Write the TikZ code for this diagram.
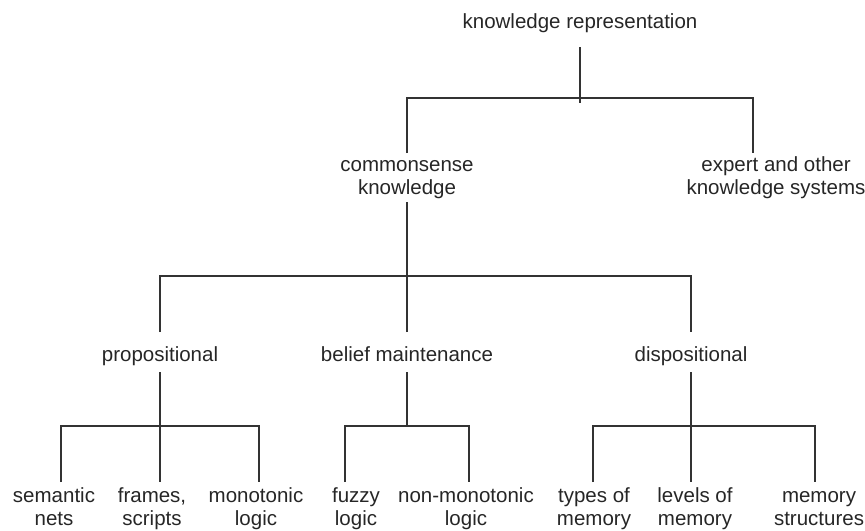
\documentclass[tikz,border=0pt]{standalone}
\usepackage{fontspec}
\setmainfont{Liberation Sans}
\usepackage{xcolor}
\usepackage{tikz}
\definecolor{inkc}{HTML}{262626}
\definecolor{linec}{HTML}{333333}

\begin{document}
\begin{tikzpicture}[x=0.5pt, y=-0.5pt,
  every node/.style={inner sep=0pt, anchor=base, align=center, text=inkc,
    font=\fontsize{10.25}{11.25}\selectfont},
  every path/.style={line width=0.7pt, linec}]
  \useasboundingbox (0,0) rectangle (865,530);
  % labels (base = last line)
  \node (root)  at (580,28)  {knowledge representation};
  \node (cs)    at (407,194) {commonsense\\knowledge};
  \node (exp)   at (776,194) {expert and other\\knowledge systems};
  \node (prop)  at (160,361) {propositional};
  \node (belief) at (407,361) {belief maintenance};
  \node (disp)  at (691,361) {dispositional};
  \node (sem)   at (54,525)  {semantic\\nets};
  \node (frm)   at (152,525) {frames,\\scripts};
  \node (mono)  at (256,525) {monotonic\\logic};
  \node (fuzzy) at (356,525) {fuzzy\\logic};
  \node (nmono) at (466,525) {non-monotonic\\logic};
  \node (types) at (594,525) {types of\\memory};
  \node (lvls)  at (695,525) {levels of\\memory};
  \node (mstr)  at (819,525) {memory\\structures};
  % forks and line ends
  \coordinate (rootfork) at (580,98);
  \coordinate (csfork) at (407,276);
  \coordinate (propfork) at (160,426);
  \coordinate (belfork) at (407,426);
  \coordinate (dispfork) at (691,426);
  \coordinate (exptop) at (753,153);
  \coordinate (semtop) at (61,482);
  \coordinate (frmtop) at (160,482);
  \coordinate (monotop) at (259,482);
  \coordinate (fuzzytop) at (345,482);
  \coordinate (nmonotop) at (469,482);
  \coordinate (typestop) at (593,482);
  \coordinate (lvlstop) at (691,482);
  \coordinate (mstrtop) at (815,482);
  % tree lines
  \draw (root.base) ++(0,19) -- ++(0,56);
  \draw (cs.base) ++(0,-41) |- (rootfork) -| (exptop);
  \draw (cs.base) ++(0,8) -- (csfork);
  \draw (prop.base) ++(0,-29) |- (csfork) -| ([yshift=14.5pt]disp.base);
  \draw (belief.base) ++(0,-29) -- (csfork);
  \draw (prop.base) ++(0,11) -- (frmtop);
  \draw (semtop) |- (propfork) -| (monotop);
  \draw (belief.base) ++(0,11) -- (belfork);
  \draw (fuzzytop) |- (belfork) -| (nmonotop);
  \draw (disp.base) ++(0,11) -- (lvlstop);
  \draw (typestop) |- (dispfork) -| (mstrtop);
\end{tikzpicture}
\end{document}
